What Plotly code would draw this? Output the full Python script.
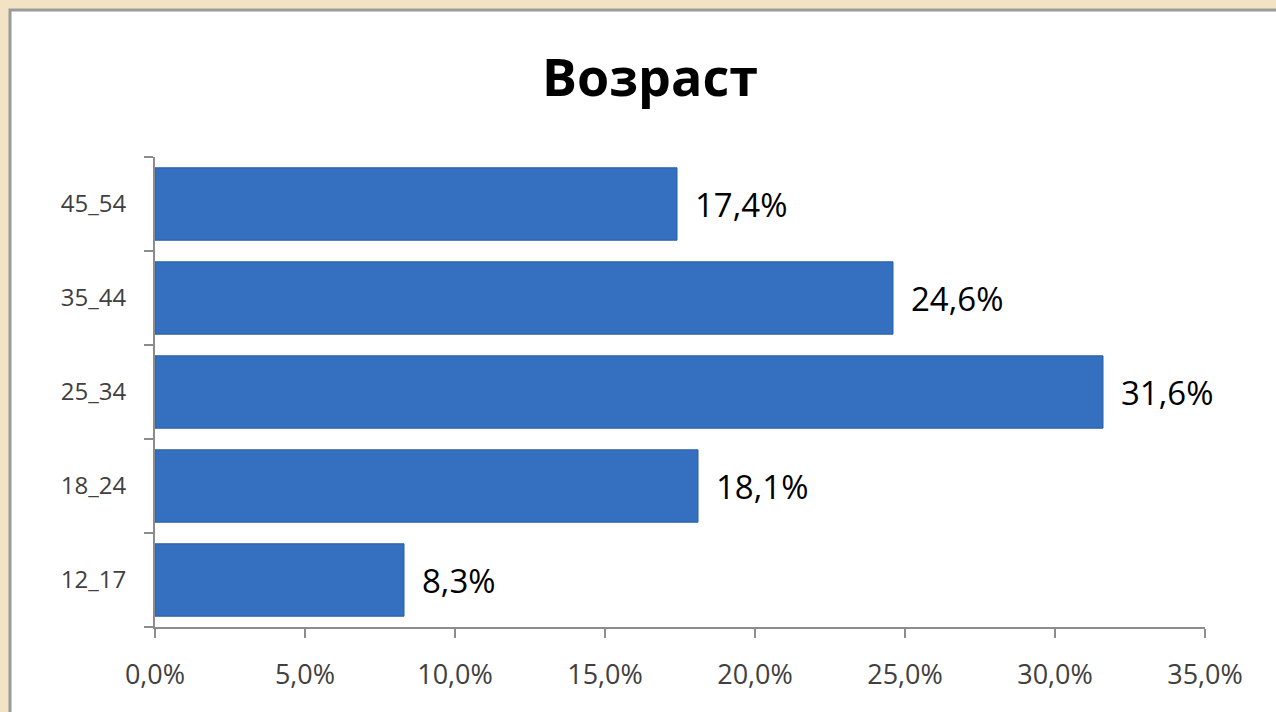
import plotly.graph_objects as go

categories = ["12_17", "18_24", "25_34", "35_44", "45_54"]
values = [0.083, 0.181, 0.316, 0.246, 0.174]
x_ticks = [0, 0.05, 0.10, 0.15, 0.20, 0.25, 0.30, 0.35]
title_text = "Возраст"

FONT = "Open Sans"

fig = go.Figure()
fig.add_trace(go.Bar(
    x=values, y=categories, orientation="h",
    marker=dict(color="#3470BF", line=dict(color="#2B5EA6", width=1)),
    width=0.77,
    hoverinfo="skip",
))

annotations = []
for c, v in zip(categories, values):
    annotations.append(dict(
        x=v, y=c, xref="x", yref="y", xanchor="left", yanchor="middle",
        xshift=16, showarrow=False,
        text=f"{v*100:.1f}%".replace(".", ","),
        font=dict(family=FONT, size=33, color="#000000"),
    ))

# paper coordinates of the white panel (plot area: x 155..1205, y 157..627)
def px_to_paper_x(px):
    return (px - 155) / 1050

def px_to_paper_y(py):
    return (627 - py) / 470

fig.update_layout(
    width=1276, height=712,
    margin=dict(l=155, r=71, t=157, b=85),
    paper_bgcolor="#F2E3C4",
    plot_bgcolor="rgba(0,0,0,0)",
    separators=", ",
    showlegend=False,
    title=dict(text="<b>" + title_text + "</b>", x=650/1276, xanchor="center",
               y=1 - 78/712, yanchor="middle",
               font=dict(family=FONT, size=52, color="#000000")),
    xaxis=dict(range=[0, 0.35], tickvals=x_ticks, tickformat=".1%",
               showgrid=False, zeroline=False, showline=True,
               linecolor="#8C8C8C", linewidth=2, ticks="outside",
               ticklen=9, tickcolor="#8C8C8C", tickwidth=2,
               ticklabelstandoff=14,
               tickfont=dict(family=FONT, size=27, color="#404040"),
               fixedrange=True),
    yaxis=dict(categoryorder="array", categoryarray=categories,
               showgrid=False, zeroline=False, showline=True,
               linecolor="#8C8C8C", linewidth=2, ticks="outside",
               tickson="boundaries", ticklen=9, tickcolor="#8C8C8C",
               tickwidth=2, ticklabelstandoff=22,
               tickfont=dict(family=FONT, size=24, color="#404040"),
               fixedrange=True),
    annotations=annotations,
    shapes=[dict(type="rect", xref="paper", yref="paper", layer="below",
                 x0=px_to_paper_x(10), x1=px_to_paper_x(1300),
                 y0=px_to_paper_y(740), y1=px_to_paper_y(10),
                 fillcolor="#FFFFFF", line=dict(color="#9A9A9A", width=3))],
)

fig.write_html("out.html", config={"displayModeBar": False},
               post_script="document.body.style.margin='0';")
